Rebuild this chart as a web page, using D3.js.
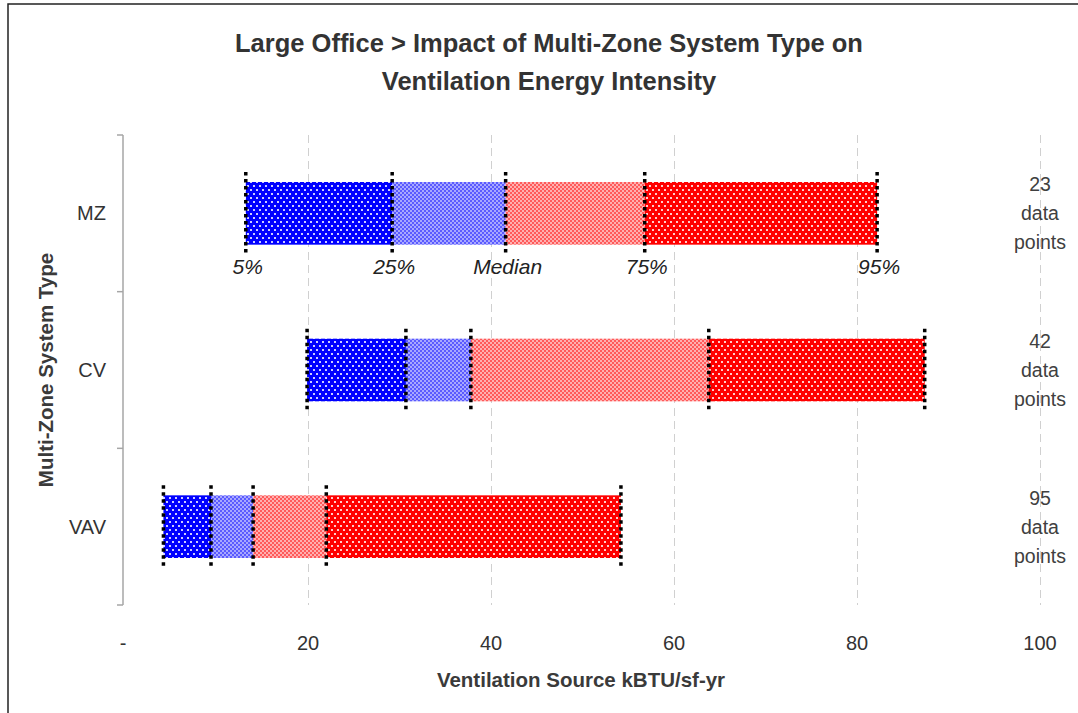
<!DOCTYPE html>
<html>
<head>
	<meta charset="utf-8">
	<style>
		body {
			margin: 0;
			background-color: white;
			font-family: "Liberation Sans", Arial, sans-serif;
		}
		svg {
			display: block;
		}
		.title {
			font-size: 25.5px;
			font-weight: bold;
			fill: #333;
		}
		.axis-title {
			font-size: 20.5px;
			font-weight: bold;
			fill: #3a3a3a;
		}
		.tick-label, .cat-label {
			font-size: 20px;
			fill: #333;
		}
		.pct-label {
			font-size: 21px;
			font-style: italic;
			fill: #222;
		}
		.count-label {
			font-size: 19.5px;
			fill: #404040;
		}
		.grid {
			stroke: #d0d0d0;
			stroke-width: 1px;
			stroke-dasharray: 8,5;
		}
		.marker {
			stroke: black;
			stroke-width: 3.5px;
			stroke-dasharray: 3.5,3.5;
		}
	</style>
</head>
<body>
<script src="https://d3js.org/d3.v7.min.js"></script>

<script>
	var categories = ["MZ", "CV", "VAV"];
	var p05 = [13.2, 19.9, 4.2];
	var p25 = [29.2, 30.7, 9.4];
	var median = [41.6, 37.8, 14.0];
	var p75 = [56.8, 63.8, 22.0];
	var p95 = [82.2, 87.4, 54.2];
	var counts = [23, 42, 95];
	var tickValues = [0, 20, 40, 60, 80, 100];
	var tickLabels = ["-", "20", "40", "60", "80", "100"];
	var pctLabels = ["5%", "25%", "Median", "75%", "95%"];

	var width = 1078, height = 713;

	var svg = d3.select("body").append("svg")
			.attr("width", width)
			.attr("height", height);

	var xScale = d3.scaleLinear()
			.domain([0, 100])
			.range([125, 1040]);
	var yScale = d3.scaleBand()
			.domain(categories)
			.range([135, 605])
			.paddingInner(0.6)
			.paddingOuter(0.3);

	// patterns: dotted for the outer quartiles, checkered for the inner ones
	var defs = svg.append("defs");
	function dotPattern(id, color) {
		var p = defs.append("pattern")
				.attr("id", id)
				.attr("patternUnits", "userSpaceOnUse")
				.attr("width", 6)
				.attr("height", 8);
		p.append("rect").attr("width", 6).attr("height", 8).attr("fill", color);
		p.append("rect").attr("x", 1).attr("y", 1).attr("width", 2).attr("height", 2)
				.attr("fill", "white").attr("opacity", 0.8);
		p.append("rect").attr("x", 4).attr("y", 5).attr("width", 2).attr("height", 2)
				.attr("fill", "white").attr("opacity", 0.8);
	}
	function checkPattern(id, dark, light) {
		var p = defs.append("pattern")
				.attr("id", id)
				.attr("patternUnits", "userSpaceOnUse")
				.attr("width", 4)
				.attr("height", 4);
		p.append("rect").attr("width", 4).attr("height", 4).attr("fill", dark);
		p.append("rect").attr("x", 0).attr("y", 0).attr("width", 2).attr("height", 2).attr("fill", light);
		p.append("rect").attr("x", 2).attr("y", 2).attr("width", 2).attr("height", 2).attr("fill", light);
	}
	dotPattern("blueDots", "#0000ff");
	checkPattern("blueCheck", "#5a5aff", "#a8a8ff");
	checkPattern("redCheck", "#ff5a5a", "#ffb0b0");
	dotPattern("redDots", "#ff0000");

	// frame
	svg.append("rect")
			.attr("x", 8)
			.attr("y", 4)
			.attr("width", 1100)
			.attr("height", 740)
			.attr("fill", "none")
			.attr("stroke", "#222")
			.attr("stroke-width", 1.5);

	// title
	var title = svg.append("text")
			.attr("class", "title")
			.attr("text-anchor", "middle");
	title.append("tspan").attr("x", 549).attr("y", 52)
			.text("Large Office > Impact of Multi-Zone System Type on");
	title.append("tspan").attr("x", 549).attr("y", 90)
			.text("Ventilation Energy Intensity");

	// gridlines
	svg.append("g").selectAll("line")
			.data(tickValues.slice(1))
		.enter().append("line")
			.attr("class", "grid")
			.attr("x1", function(d) { return Math.round(xScale(d)) + 0.5; })
			.attr("x2", function(d) { return Math.round(xScale(d)) + 0.5; })
			.attr("y1", yScale.range()[0])
			.attr("y2", yScale.range()[1]);

	// x tick labels
	svg.append("g").selectAll("text")
			.data(tickValues)
		.enter().append("text")
			.attr("class", "tick-label")
			.attr("text-anchor", "middle")
			.attr("x", function(d) { return xScale(d) - (d == 0 ? 2 : 0); })
			.attr("y", 650)
			.text(function(d, i) { return tickLabels[i]; });

	// y axis
	var yAxis = svg.append("g").attr("stroke", "#a6a6a6").attr("stroke-width", 1.5);
	yAxis.append("line")
			.attr("x1", 123).attr("x2", 123)
			.attr("y1", yScale.range()[0]).attr("y2", yScale.range()[1]);
	var boundaries = categories.map(function(c) { return yScale(c) - yScale.step() * yScale.paddingInner() / 2; })
			.concat([yScale.range()[1]]);
	boundaries[0] = yScale.range()[0];
	yAxis.selectAll(".tk")
			.data(boundaries)
		.enter().append("line")
			.attr("x1", 117).attr("x2", 123)
			.attr("y1", function(d) { return d; })
			.attr("y2", function(d) { return d; });

	svg.append("g").selectAll("text")
			.data(categories)
		.enter().append("text")
			.attr("class", "cat-label")
			.attr("text-anchor", "end")
			.attr("x", 106)
			.attr("y", function(d) { return yScale(d) + yScale.bandwidth() / 2 + 7; })
			.text(function(d) { return d; });

	// bars
	var segs = [];
	categories.forEach(function(c, i) {
		var stops = [p05[i], p25[i], median[i], p75[i], p95[i]];
		var fills = ["url(#blueDots)", "url(#blueCheck)", "url(#redCheck)", "url(#redDots)"];
		for (var k = 0; k < 4; k++) {
			segs.push({cat: c, x0: stops[k], x1: stops[k + 1], fill: fills[k]});
		}
	});
	svg.append("g").selectAll("rect")
			.data(segs)
		.enter().append("rect")
			.attr("x", function(d) { return xScale(d.x0); })
			.attr("width", function(d) { return xScale(d.x1) - xScale(d.x0); })
			.attr("y", function(d) { return yScale(d.cat); })
			.attr("height", yScale.bandwidth())
			.attr("fill", function(d) { return d.fill; });

	// percentile markers
	var marks = [];
	categories.forEach(function(c, i) {
		[p05[i], p25[i], median[i], p75[i], p95[i]].forEach(function(v) {
			marks.push({cat: c, v: v});
		});
	});
	svg.append("g").selectAll("line")
			.data(marks)
		.enter().append("line")
			.attr("class", "marker")
			.attr("x1", function(d) { return xScale(d.v); })
			.attr("x2", function(d) { return xScale(d.v); })
			.attr("y1", function(d) { return yScale(d.cat) - 10; })
			.attr("y2", function(d) { return yScale(d.cat) + yScale.bandwidth() + 10; });

	// percentile labels on first bar
	var first = [p05[0], p25[0], median[0], p75[0], p95[0]];
	svg.append("g").selectAll("text")
			.data(first)
		.enter().append("text")
			.attr("class", "pct-label")
			.attr("text-anchor", "middle")
			.attr("x", function(d) { return xScale(d) + 2; })
			.attr("y", yScale(categories[0]) + yScale.bandwidth() + 29)
			.text(function(d, i) { return pctLabels[i]; });

	// data point counts
	var countG = svg.append("g").selectAll("text")
			.data(categories)
		.enter().append("text")
			.attr("class", "count-label")
			.attr("text-anchor", "middle")
			.attr("y", function(d) { return yScale(d) + yScale.bandwidth() / 2; });
	countG.append("tspan").attr("x", 1040).attr("dy", -22)
			.text(function(d, i) { return counts[i]; });
	countG.append("tspan").attr("x", 1040).attr("dy", 29).text("data");
	countG.append("tspan").attr("x", 1040).attr("dy", 29).text("points");

	// axis titles
	svg.append("text")
			.attr("class", "axis-title")
			.attr("text-anchor", "middle")
			.attr("x", 581)
			.attr("y", 687)
			.text("Ventilation Source kBTU/sf-yr");
	svg.append("text")
			.attr("class", "axis-title")
			.attr("text-anchor", "middle")
			.attr("transform", "translate(53,370) rotate(-90)")
			.text("Multi-Zone System Type");
</script>
</body>
</html>
